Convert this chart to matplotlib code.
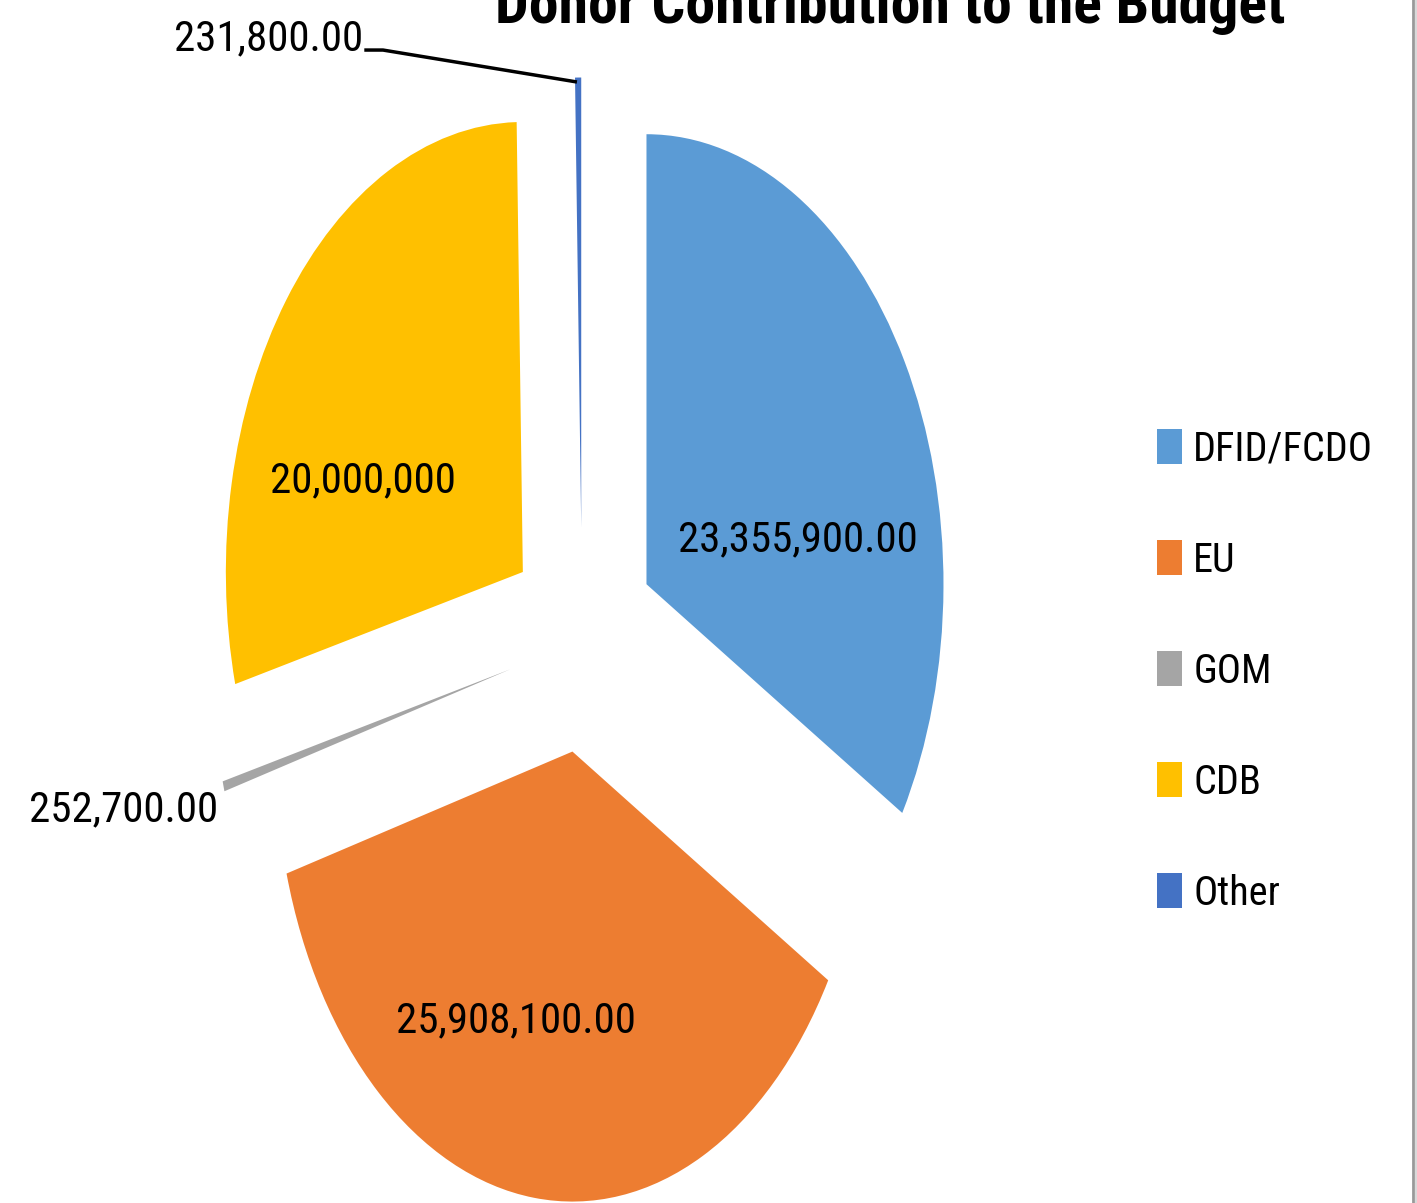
import matplotlib
matplotlib.use("Agg")
import matplotlib.pyplot as plt
from matplotlib.lines import Line2D
from matplotlib.patches import Rectangle

plt.rcParams['font.family'] = ['Roboto Condensed', 'DejaVu Sans']
plt.rcParams['font.stretch'] = 'condensed'

# donor contributions
donors = ["DFID/FCDO", "EU", "GOM", "CDB", "Other"]
amounts = [23355900.00, 25908100.00, 252700.00, 20000000, 231800.00]
labels = ["23,355,900.00", "25,908,100.00", "252,700.00", "20,000,000", "231,800.00"]
colors = ["#5B9BD5", "#ED7D31", "#A5A5A5", "#FFC000", "#4472C4"]

# baseline-centre of each value label (data coords, pie radius = 1)
label_xy = [(0.727, 0.196), (-0.223, -0.871), (-1.543, -0.404), (-0.737, 0.329), (-1.057, 1.311)]

W, H = 1417, 1203
fig = plt.figure(figsize=(W / 100, H / 100), dpi=100)
ax = fig.add_axes([0, 0, 1, 1])

wedges, _ = ax.pie(amounts, colors=colors, startangle=90, counterclock=False,
                   explode=[0.25] * len(amounts), radius=1,
                   wedgeprops=dict(linewidth=0))

# pie is stretched vertically: ~297 px across, 450 px tall per unit radius
cx, cy, rx, ry = 582, 640, 297, 450
ax.set_aspect('auto')
ax.set_xlim(-cx / rx, (W - cx) / rx)
ax.set_ylim((cy - H) / ry, cy / ry)
ax.axis('off')

for (x, y), txt in zip(label_xy, labels):
    ax.text(x, y, txt, ha='center', va='baseline', fontsize=31, color='black')

# leader line for the small "Other" slice
ax.plot([-0.733, -0.67, -0.017], [1.311, 1.311, 1.24], color='black', lw=2.5,
        solid_capstyle='butt')

fig.text(890 / W, 1 - 23 / H, "Donor Contribution to the Budget", ha='center',
         va='baseline', fontsize=43, fontweight='bold')

leg = fig.legend(wedges, donors, loc='center left', bbox_to_anchor=(1157 / W, 1 - 671 / H),
                 frameon=False, fontsize=29, handlelength=0.62, handleheight=0.96,
                 handletextpad=0.28, labelspacing=1.78, borderpad=0, borderaxespad=0)

# chart border on the right
fig.add_artist(Rectangle((1415 / W, 0), 2 / W, 1, transform=fig.transFigure,
                         color='#d9d9d9', lw=0))
fig.add_artist(Line2D([1413 / W] * 2, [0, 1], transform=fig.transFigure,
                      color='#999999', lw=2))

fig.savefig("out.png", dpi=100)
